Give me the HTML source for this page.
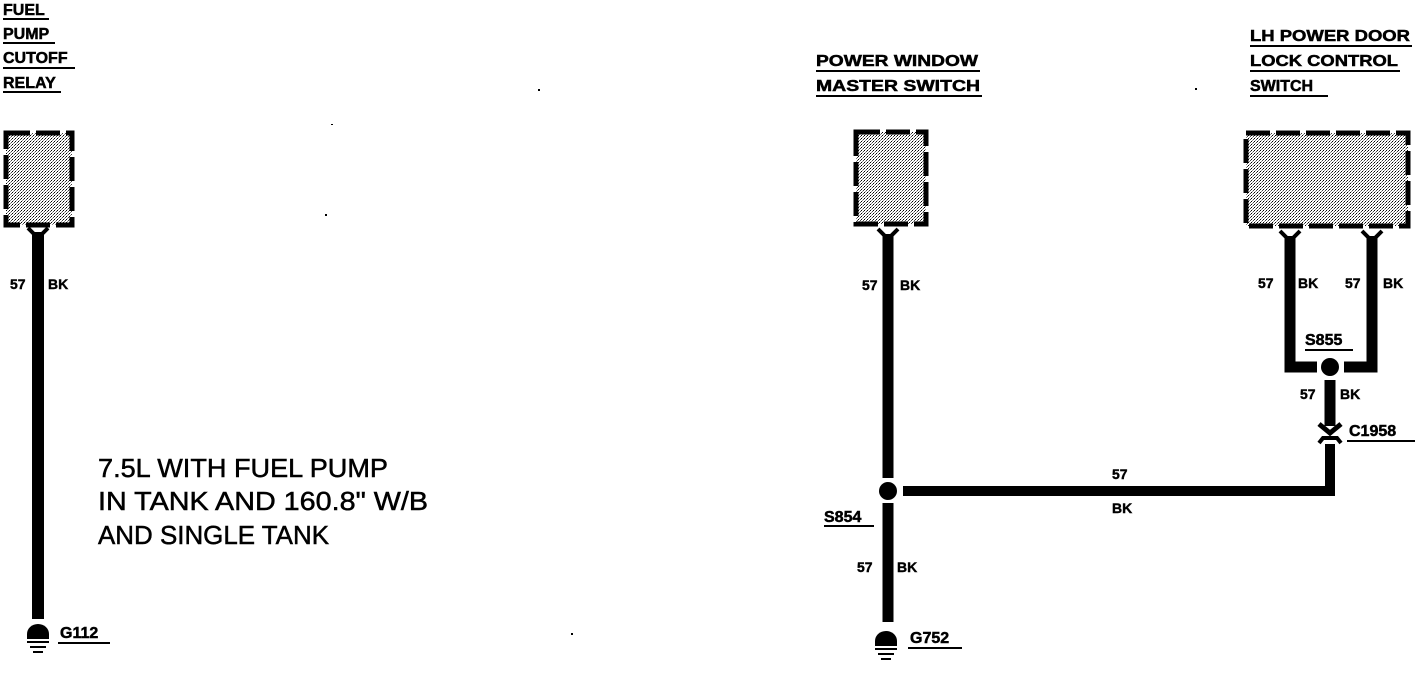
<!DOCTYPE html>
<html><head><meta charset="utf-8"><style>
html,body{margin:0;padding:0;background:#fff;width:1416px;height:688px;overflow:hidden}
svg{display:block}
.h{font-family:"Liberation Sans",sans-serif;font-weight:bold;font-size:16px;fill:#000;stroke:#000;stroke-width:0.5}
.l{font-family:"Liberation Sans",sans-serif;font-weight:bold;font-size:14px;fill:#000;stroke:#000;stroke-width:0.4}
.t{font-family:"Liberation Sans",sans-serif;font-size:26px;fill:#000;stroke:#000;stroke-width:0.5}
</style></head><body>
<svg width="1416" height="688" viewBox="0 0 1416 688" xmlns="http://www.w3.org/2000/svg">
<defs>
<pattern id="st" width="3" height="3" patternUnits="userSpaceOnUse">
<rect width="3" height="3" fill="#fff"/><rect x="0" y="0" width="1" height="1" fill="#000"/><rect x="2" y="1" width="1" height="1" fill="#444"/><rect x="1" y="2" width="1" height="1" fill="#888"/>
</pattern>
</defs>
<g fill="#000" stroke="none">
<text class="h" x="3" y="15">FUEL</text><rect x="3" y="18" width="46" height="2"/>
<text class="h" x="3" y="39">PUMP</text><rect x="3" y="42" width="52" height="2"/>
<text class="h" x="3" y="63">CUTOFF</text><rect x="3" y="67" width="72" height="2"/>
<text class="h" x="3" y="88">RELAY</text><rect x="3" y="91" width="58" height="2"/>
<text class="h" x="816" y="66" textLength="162" lengthAdjust="spacingAndGlyphs">POWER WINDOW</text><rect x="816" y="70" width="164" height="2"/>
<text class="h" x="816" y="91" textLength="164" lengthAdjust="spacingAndGlyphs">MASTER SWITCH</text><rect x="816" y="95" width="166" height="2"/>
<text class="h" x="1250" y="41" textLength="160" lengthAdjust="spacingAndGlyphs">LH POWER DOOR</text><rect x="1250" y="45" width="162" height="2"/>
<text class="h" x="1250" y="66" textLength="148" lengthAdjust="spacingAndGlyphs">LOCK CONTROL</text><rect x="1250" y="70" width="150" height="2"/>
<text class="h" x="1250" y="91">SWITCH</text><rect x="1250" y="95" width="78" height="2"/>
</g>
<g fill="url(#st)" stroke="#000" stroke-width="5" stroke-dasharray="24 6">
<rect x="6" y="133" width="66" height="92"/>
<rect x="856" y="132" width="70" height="92"/>
<rect x="1246" y="133" width="162" height="93"/>
</g>
<g stroke="#000" fill="none" stroke-linecap="butt">
<path d="M28 228 L38 238 L48 228" stroke-width="4"/>
<path d="M878 229 L888 239 L898 229" stroke-width="4"/>
<path d="M1280 231 L1290 241 L1300 231" stroke-width="4"/>
<path d="M1362 231 L1372 241 L1382 231" stroke-width="4"/>
<line x1="38" y1="232" x2="38" y2="619" stroke-width="12"/>
<line x1="888" y1="234" x2="888" y2="478" stroke-width="11"/>
<line x1="888" y1="503" x2="888" y2="622" stroke-width="11"/>
<path d="M903 491 L1330 491 L1330 444" stroke-width="10"/>
<path d="M1290 236 L1290 367 L1317 367" stroke-width="11"/>
<path d="M1372 236 L1372 367 L1344 367" stroke-width="11"/>
<line x1="1330" y1="380" x2="1330" y2="426" stroke-width="11"/>
<path d="M1319 424 L1330 433 L1341 424" stroke-width="5"/>
<path d="M1319 443 L1323 438 L1337 438 L1341 443" stroke-width="4"/>
<path d="M27 642 L49 642 M30 647 L46 647 M33 652 L43 652" stroke-width="2"/>
<path d="M875 649 L897 649 M878 654 L894 654 M881 659 L891 659" stroke-width="2"/>
</g>
<g fill="#000">
<circle cx="888" cy="491" r="9"/>
<circle cx="1330" cy="367" r="9"/>
<path d="M27 639 L27 634 A11 10 0 0 1 49 634 L49 639 Z"/>
<path d="M875 646 L875 641 A11 10 0 0 1 897 641 L897 646 Z"/>
<text class="l" x="10" y="289">57</text><text class="l" x="48" y="289">BK</text>
<text class="l" x="862" y="290">57</text><text class="l" x="900" y="290">BK</text>
<text class="l" x="1258" y="288">57</text><text class="l" x="1298" y="288">BK</text>
<text class="l" x="1345" y="288">57</text><text class="l" x="1383" y="288">BK</text>
<text class="l" x="1300" y="399">57</text><text class="l" x="1340" y="399">BK</text>
<text class="l" x="857" y="572">57</text><text class="l" x="897" y="572">BK</text>
<text class="l" x="1112" y="479">57</text><text class="l" x="1112" y="513">BK</text>
<text class="h" x="1305" y="345">S855</text><rect x="1305" y="349" width="48" height="2"/>
<text class="h" x="1349" y="436">C1958</text><rect x="1347" y="440" width="68" height="2"/>
<text class="h" x="824" y="522">S854</text><rect x="824" y="525" width="50" height="2"/>
<text class="h" x="60" y="638">G112</text><rect x="58" y="642" width="52" height="2"/>
<text class="h" x="910" y="643">G752</text><rect x="908" y="647" width="54" height="2"/>
<text class="t" x="98" y="477" textLength="290" lengthAdjust="spacingAndGlyphs">7.5L WITH FUEL PUMP</text>
<text class="t" x="98" y="510" textLength="330" lengthAdjust="spacingAndGlyphs">IN TANK AND 160.8" W/B</text>
<text class="t" x="98" y="544" textLength="231" lengthAdjust="spacingAndGlyphs">AND SINGLE TANK</text>
<rect x="538" y="89" width="2" height="2"/>
<rect x="331" y="124" width="2" height="1"/>
<rect x="325" y="214" width="2" height="2"/>
<rect x="571" y="633" width="2" height="2"/>
<rect x="1195" y="88" width="2" height="2"/>
</g>
</svg>
</body></html>
